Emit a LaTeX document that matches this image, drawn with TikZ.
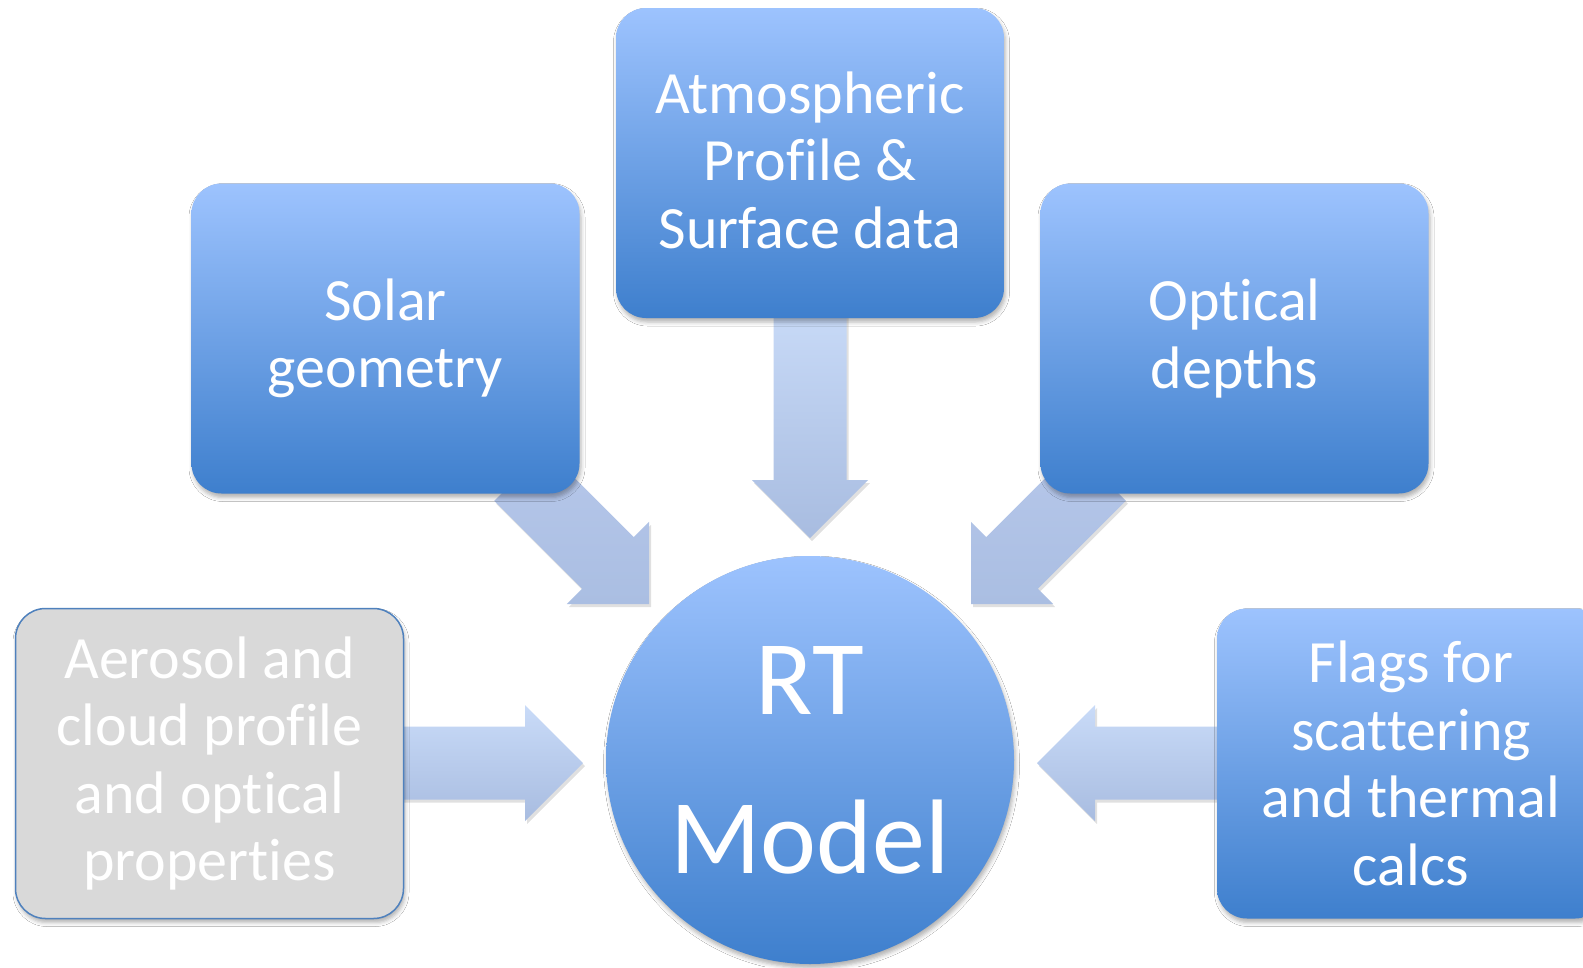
\documentclass[tikz,border=0pt]{standalone}
\usepackage{fontspec}
\setmainfont[Ligatures=NoCommon]{Carlito}
\usetikzlibrary{calc,shadows.blur}
\definecolor{boxtop}{RGB}{157,195,254}
\definecolor{boxbot}{RGB}{62,127,205}
\definecolor{arrtop}{RGB}{201,219,248}
\definecolor{arrbot}{RGB}{168,188,224}
\definecolor{diagtop}{RGB}{182,199,234}
\definecolor{diagbot}{RGB}{170,190,226}
\definecolor{grayfill}{RGB}{217,217,217}
\definecolor{grayedge}{RGB}{79,129,189}
\tikzset{
  boxshadow/.style={blur shadow={shadow xshift=1.5pt, shadow yshift=-4pt, shadow blur radius=4pt, shadow opacity=30}},
  bluebox/.style={rounded corners=30pt, minimum width=388pt, minimum height=310pt,
    top color=boxtop, bottom color=boxbot, text=white, align=center, inner sep=0pt,
    font=\fontsize{60}{67.5}\selectfont, boxshadow},
  graybox/.style={rounded corners=30pt, minimum width=388pt, minimum height=310pt,
    fill=grayfill, draw=grayedge, line width=1.5pt, text=white, align=center, inner sep=0pt,
    font=\fontsize{60}{67.5}\selectfont, boxshadow},
  hubcircle/.style={circle, minimum size=408pt, inner sep=0pt, top color=boxtop, bottom color=boxbot,
    text=white, align=center, font=\fontsize{106}{159}\selectfont, boxshadow},
  arrowfill/.style={top color=arrtop, bottom color=arrbot,
    preaction={fill=black, fill opacity=0.12, transform canvas={xshift=2pt, yshift=-3pt}}},
  diagfill/.style={top color=diagtop, bottom color=diagbot,
    preaction={fill=black, fill opacity=0.12, transform canvas={xshift=2pt, yshift=-3pt}}}
}
% #1 style, #2 start, #3 tip
\newcommand\blockarrow[3][arrowfill]{%
  \coordinate (hb) at ($(#3)!58pt!(#2)$);
  \path[#1] ($(#2)!36.5pt!90:(#3)$) -- ($(hb)!36.5pt!90:(#3)$) -- ($(hb)!58pt!90:(#3)$)
    -- (#3) -- ($(hb)!58pt!-90:(#3)$) -- ($(hb)!36.5pt!-90:(#3)$) -- ($(#2)!36.5pt!-90:(#3)$) -- cycle;
}
\begin{document}
\begin{tikzpicture}[x=1pt, y=-1pt]
\useasboundingbox (0,0) rectangle (1583,967);
\fill[white] (0,0) rectangle (1583,967);
\clip (0,0) rectangle (1583,967);

\path (810,163) coordinate (atmC)
      (385.5,338.5) coordinate (solC)
      (1234.5,338.5) coordinate (optC)
      (209.5,763.5) coordinate (aerC)
      (1411,763.5) coordinate (flgC)
      (810,760) coordinate (rtC);

% connectors (block arrows, behind the boxes)
\coordinate (tipD) at (810,538);
\coordinate (tipL) at (583,763);
\coordinate (tipR) at (1037,763);
\coordinate (tipSL) at (649,604);
\coordinate (tipSR) at (971,604);
\coordinate (startD) at (810,300);
\coordinate (startL) at (390,763);
\coordinate (startR) at (1230,763);
\coordinate (startSL) at (520,475);
\coordinate (startSR) at (1100,475);

\blockarrow{startD}{tipD}
\blockarrow[diagfill]{startSL}{tipSL}
\blockarrow[diagfill]{startSR}{tipSR}
\blockarrow{startL}{tipL}
\blockarrow{startR}{tipR}

% boxes
\node[bluebox] (atm) at (atmC) {\raisebox{-4pt}[\height][\depth]{\begin{tabular}{@{}c@{}}Atmospheric\\Profile \&\\Surface data\end{tabular}}};
\node[bluebox] (sol) at (solC) {Solar\\geometry};
\node[bluebox] (opt) at (optC) {Optical\\depths};
\node[graybox] (aer) at (aerC) {Aerosol and\\cloud profile\\and optical\\properties};
\node[bluebox] (flg) at (flgC) {Flags for\\scattering\\and thermal\\calcs};
\node[hubcircle] (rt) at (rtC) {RT\\Model};
\end{tikzpicture}
\end{document}
